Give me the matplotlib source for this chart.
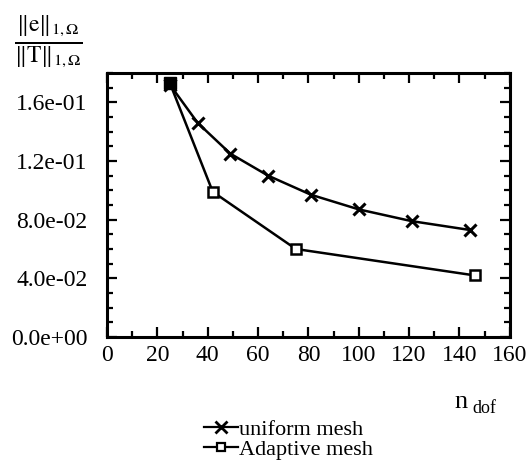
import matplotlib
matplotlib.use("Agg")
import matplotlib.pyplot as plt
from matplotlib.ticker import MultipleLocator, FormatStrFormatter
from matplotlib.lines import Line2D

# Relative error in the H1 norm versus number of degrees of freedom
uniform_dof = [25, 36, 49, 64, 81, 100, 121, 144]
uniform_err = [0.172, 0.146, 0.125, 0.110, 0.097, 0.087, 0.079, 0.073]

adaptive_dof = [25, 42, 75, 146]
adaptive_err = [0.173, 0.099, 0.060, 0.042]

series_labels = ["uniform mesh", "Adaptive mesh"]

plt.rcParams["font.family"] = ["Liberation Serif", "DejaVu Serif"]
plt.rcParams["mathtext.fontset"] = "stix"

fig = plt.figure(figsize=(5.29, 4.62), dpi=100)
ax = fig.add_axes([0.2023, 0.2706, 0.7614, 0.5714])

ax.plot(uniform_dof, uniform_err, color="black", lw=1.8,
        marker="x", markersize=9, markeredgewidth=2.2)
ax.plot(adaptive_dof, adaptive_err, color="black", lw=1.8,
        marker="s", markersize=7, markerfacecolor="white",
        markeredgewidth=1.8)
# coarsest mesh is shared by both runs: the overlapping markers read as solid
ax.plot(adaptive_dof[:1], adaptive_err[:1], color="black", ls="none",
        marker="s", markersize=8, zorder=5)

ax.set_xlim(0, 160)
ax.set_ylim(0, 0.18)
ax.xaxis.set_major_locator(MultipleLocator(20))
ax.xaxis.set_minor_locator(MultipleLocator(10))
ax.yaxis.set_major_locator(MultipleLocator(0.04))
ax.yaxis.set_minor_locator(MultipleLocator(0.01))
ax.yaxis.set_major_formatter(FormatStrFormatter("%.1e"))

ax.tick_params(which="both", direction="in", top=True, right=True,
               labelsize=17, width=1.6)
ax.tick_params(axis="y", pad=14)
ax.tick_params(axis="x", pad=6)
ax.tick_params(which="major", length=7)
ax.tick_params(which="minor", length=4)
for s in ax.spines.values():
    s.set_linewidth(2.2)

# Y-axis quantity written as a fraction above the axis
fig.text(0.027, 0.91,
         r"$\frac{\|\mathrm{e}\|_{1,\Omega}}{\|\mathrm{T}\|_{1,\Omega}}$",
         fontsize=24, ha="left", va="center")

# X-axis quantity
fig.text(0.859, 0.117, "n", fontsize=19, ha="left", va="baseline")
fig.text(0.893, 0.105, "dof", fontsize=13, ha="left", va="baseline")

handles = [
    Line2D([], [], color="black", lw=1.6, marker="x", markersize=8,
           markeredgewidth=2.0),
    Line2D([], [], color="black", lw=1.6, marker="s", markersize=6,
           markerfacecolor="white", markeredgewidth=1.6),
]
fig.legend(handles, series_labels, loc="upper left",
           bbox_to_anchor=(0.386, 0.093),
           frameon=False, fontsize=16, handlelength=1.5, handletextpad=0.05,
           labelspacing=0.0, borderpad=0, borderaxespad=0)

fig.savefig("out.png", dpi=100)
